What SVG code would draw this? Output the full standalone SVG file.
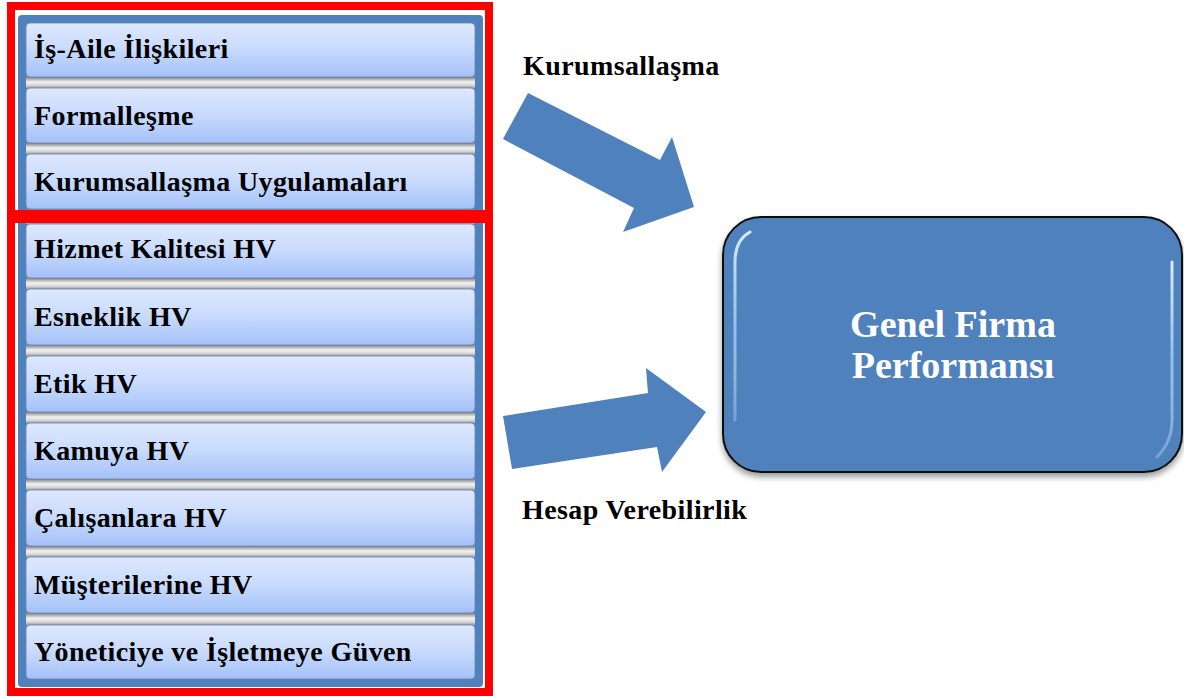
<svg xmlns="http://www.w3.org/2000/svg" width="1184" height="697" viewBox="0 0 1184 697">
  <defs>
    <linearGradient id="itemGrad" x1="0" y1="0" x2="0" y2="1">
      <stop offset="0" stop-color="#DEE8FE"/>
      <stop offset="0.5" stop-color="#C8DAFC"/>
      <stop offset="1" stop-color="#A3C1F9"/>
    </linearGradient>
    <linearGradient id="gapGrad" x1="0" y1="0" x2="0" y2="1">
      <stop offset="0" stop-color="#7F7F7F"/>
      <stop offset="0.45" stop-color="#F2F2F2"/>
      <stop offset="0.75" stop-color="#D8D8D8"/>
      <stop offset="1" stop-color="#9A9A9A"/>
    </linearGradient>
    <linearGradient id="hlV" x1="0" y1="0" x2="0" y2="1">
      <stop offset="0" stop-color="#D6ECFF" stop-opacity="1"/>
      <stop offset="0.5" stop-color="#9CC6F2" stop-opacity="0.9"/>
      <stop offset="1" stop-color="#D6ECFF" stop-opacity="0.3"/>
    </linearGradient>
    <filter id="shadow" x="-10%" y="-10%" width="120%" height="130%">
      <feGaussianBlur in="SourceAlpha" stdDeviation="3"/>
      <feOffset dx="0" dy="4"/>
      <feComponentTransfer><feFuncA type="linear" slope="0.4"/></feComponentTransfer>
      <feMerge><feMergeNode/><feMergeNode in="SourceGraphic"/></feMerge>
    </filter>
  </defs>
  <style>
    .item { fill: url(#itemGrad); stroke: #6B84AE; stroke-width: 0.8; }
    .gap { fill: url(#gapGrad); }
    .lbl { font-family: "Liberation Serif", "Times New Roman", serif; font-weight: bold; font-size: 28px; letter-spacing: 0.4px; fill: #000; }
    .red { fill: none; stroke: #FF0000; stroke-width: 8; }
    .arrow { fill: #4F81BD; }
  </style>

  <rect width="1184" height="697" fill="#FFFFFF"/>

  <!-- blue panel -->
  <g id="panel">
    <rect x="18" y="15" width="465" height="672" rx="4" fill="#4F81BD"/>
    <rect class="gap" x="26" y="77" width="449" height="11"/>
    <rect class="gap" x="26" y="143" width="449" height="11"/>
    <rect class="gap" x="26" y="209" width="449" height="15"/>
    <rect class="gap" x="26" y="278" width="449" height="11"/>
    <rect class="gap" x="26" y="345" width="449" height="11"/>
    <rect class="gap" x="26" y="412" width="449" height="11"/>
    <rect class="gap" x="26" y="479" width="449" height="11"/>
    <rect class="gap" x="26" y="546" width="449" height="11"/>
    <rect class="gap" x="26" y="613" width="449" height="12"/>
  </g>

  <g id="item-is-aile"><rect class="item" x="26" y="23" width="449" height="54" rx="4"/><text class="lbl" x="34" y="58">İş-Aile İlişkileri</text></g>
  <g id="item-formallesme"><rect class="item" x="26" y="88" width="449" height="55" rx="4"/><text class="lbl" x="34" y="125">Formalleşme</text></g>
  <g id="item-kurumsallasma-uyg"><rect class="item" x="26" y="154" width="449" height="55" rx="4"/><text class="lbl" x="34" y="191">Kurumsallaşma Uygulamaları</text></g>
  <g id="item-hizmet"><rect class="item" x="26" y="224" width="449" height="54" rx="4"/><text class="lbl" x="34" y="258">Hizmet Kalitesi HV</text></g>
  <g id="item-esneklik"><rect class="item" x="26" y="289" width="449" height="56" rx="4"/><text class="lbl" x="34" y="326">Esneklik HV</text></g>
  <g id="item-etik"><rect class="item" x="26" y="356" width="449" height="56" rx="4"/><text class="lbl" x="34" y="393">Etik HV</text></g>
  <g id="item-kamuya"><rect class="item" x="26" y="423" width="449" height="56" rx="4"/><text class="lbl" x="34" y="460">Kamuya HV</text></g>
  <g id="item-calisanlara"><rect class="item" x="26" y="490" width="449" height="56" rx="4"/><text class="lbl" x="34" y="527">Çalışanlara HV</text></g>
  <g id="item-musterilerine"><rect class="item" x="26" y="557" width="449" height="56" rx="4"/><text class="lbl" x="34" y="594">Müşterilerine HV</text></g>
  <g id="item-yoneticiye"><rect class="item" x="26" y="625" width="449" height="54" rx="4"/><text class="lbl" x="34" y="661">Yöneticiye ve İşletmeye Güven</text></g>

  <!-- red group frames -->
  <g id="frame-kurumsallasma"><rect class="red" x="11" y="6" width="478" height="208"/></g>
  <g id="frame-hesap"><rect class="red" x="11" y="219" width="478" height="473"/></g>

  <!-- connectors -->
  <g id="connectors">
    <polygon class="arrow" points="528,93 660,160 672,137 694,207 623,232 634,208 503,139"/>
    <polygon class="arrow" points="503,416 648,393 646,368 706,412 662,472 657,447 512,469"/>
    <text class="lbl" x="523" y="75">Kurumsallaşma</text>
    <text class="lbl" x="522" y="519">Hesap Verebilirlik</text>
  </g>

  <!-- target node -->
  <g id="genel-firma-performansi">
    <rect x="723" y="217" width="459" height="255" rx="38" fill="#4F81BD" stroke="#111" stroke-width="2" filter="url(#shadow)"/>
    <path d="M735,420 L735,262 Q735,240 750,232" fill="none" stroke="url(#hlV)" stroke-width="3" stroke-linecap="round"/>
    <path d="M1172,262 L1172,420 Q1172,442 1157,457" fill="none" stroke="url(#hlV)" stroke-width="3" stroke-linecap="round"/>
    <text x="953" y="337" text-anchor="middle" font-family="'Liberation Serif', 'Times New Roman', serif" font-weight="bold" font-size="38" fill="#FFFFFF">Genel Firma</text>
    <text x="953" y="378" text-anchor="middle" font-family="'Liberation Serif', 'Times New Roman', serif" font-weight="bold" font-size="38" fill="#FFFFFF">Performansı</text>
  </g>
</svg>
